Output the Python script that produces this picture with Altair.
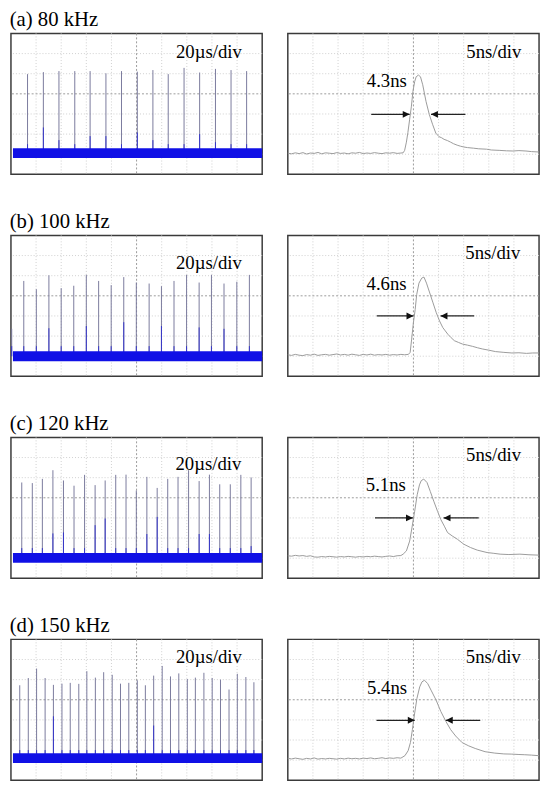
import altair as alt
import pandas as pd

# ---------------- data (all in scope divisions) ----------------
TITLES = ["(a) 80 kHz", "(b) 100 kHz", "(c) 120 kHz", "(d) 150 kHz"]
TRAIN_LABEL = "20µs/div"
PULSE_LABEL = "5ns/div"
WIDTH_LABELS = ["4.3ns", "4.6ns", "5.1ns", "5.4ns"]

GRID_X = [1, 2, 3, 4, 6, 7, 8, 9]
GRID_Y = [1, 2, 3, 5, 6]
CENTER_X = [5]
CENTER_Y = [4]

# pulse trains: spike times, spike tops, bright-blue part tops
A_T = [0.66, 1.29, 1.91, 2.54, 3.15, 3.78, 4.40, 5.03, 5.65, 6.26, 6.89, 7.51, 8.14, 8.76, 9.38]
A_H = [4.98, 5.08, 5.13, 5.13, 5.13, 5.02, 5.13, 5.10, 5.18, 4.98, 5.29, 5.06, 5.24, 5.18, 5.13]
A_B = [1.5, 2.33, 1.7, 1.5, 1.9, 1.9, 1.5, 2.08, 1.7, 1.5, 1.5, 2.0, 1.6, 1.5, 1.5]

B_T = [0.03, 0.51, 1.01, 1.51, 2.00, 2.50, 3.00, 3.49, 3.99, 4.49, 4.99, 5.50, 5.99, 6.49, 6.99, 7.49, 7.98, 8.48, 8.99, 9.49]
B_H = [2.36, 4.74, 4.33, 5.02, 4.38, 4.50, 5.04, 4.74, 4.53, 4.93, 4.66, 4.61, 4.48, 4.74, 5.04, 4.66, 5.04, 4.61, 4.70, 5.04]
B_B = [1.5, 1.5, 1.5, 2.39, 1.5, 1.5, 2.5, 1.5, 1.5, 2.69, 1.5, 1.5, 2.5, 1.5, 1.5, 2.43, 1.5, 2.36, 1.5, 1.5]

C_T = [0.43, 0.85, 1.25, 1.67, 2.09, 2.51, 2.93, 3.35, 3.75, 4.17, 4.58, 4.99, 5.41, 5.82, 6.24, 6.65, 7.07, 7.49, 7.90, 8.31, 8.73, 9.15, 9.56]
C_H = [4.76, 4.73, 4.94, 5.37, 4.86, 4.60, 5.14, 4.63, 4.86, 5.14, 5.15, 4.36, 5.04, 4.49, 4.94, 5.04, 5.37, 4.83, 5.15, 4.67, 4.67, 5.14, 5.01]
C_B = [1.5, 1.5, 1.5, 2.23, 2.28, 1.5, 1.5, 2.64, 2.97, 1.5, 1.5, 1.5, 2.20, 3.05, 1.5, 1.5, 1.5, 2.20, 2.20, 1.5, 1.5, 1.5, 1.6]

D_T = [0.35, 0.69, 1.02, 1.36, 1.69, 2.03, 2.36, 2.70, 3.02, 3.36, 3.69, 4.03, 4.36, 4.69, 5.03, 5.35, 5.68, 6.02, 6.35, 6.68, 7.02, 7.34, 7.68, 8.01, 8.34, 8.68, 9.01, 9.35, 9.67]
D_H = [4.72, 5.08, 5.55, 5.08, 4.74, 4.80, 4.84, 4.79, 5.42, 5.10, 5.37, 5.24, 4.80, 4.84, 4.97, 4.72, 5.20, 5.68, 5.16, 5.31, 5.03, 5.10, 5.34, 5.08, 5.00, 4.51, 5.29, 5.13, 4.87]
D_B = [1.5, 1.5, 1.5, 1.5, 3.18, 1.5, 1.5, 1.5, 1.5, 1.5, 1.5, 1.5, 1.5, 1.5, 1.5, 1.5, 2.72, 1.5, 1.5, 1.5, 1.5, 1.5, 1.5, 1.5, 1.5, 1.5, 1.5, 1.5, 1.5]

# noise band (low, high) and its x-extent
BANDS = [(0.81, 1.30), (0.75, 1.24), (0.77, 1.26), (0.86, 1.34)]
BAND_X = (0.08, 10.0)

# single pulse waveforms: baseline part then pulse part
BASE_X = [0.0, 0.15, 0.3, 0.45, 0.6, 0.75, 0.9, 1.05, 1.2, 1.35, 1.5, 1.65, 1.8, 1.95, 2.1, 2.25,
          2.4, 2.55, 2.7, 2.85, 3.0, 3.15, 3.3, 3.45, 3.6, 3.75, 3.9, 4.05, 4.2, 4.35, 4.5]
A_BASE_Y = [1.05, 1.02, 1.07, 1.03, 1.08, 1.01, 1.06, 1.04, 1.09, 1.02, 1.07, 1.05, 1.03, 1.08, 1.04, 1.06,
            1.02, 1.07, 1.05, 1.09, 1.03, 1.06, 1.04, 1.08, 1.05, 1.03, 1.07, 1.05, 1.08, 1.04, 1.06]
B_BASE_Y = [1.07, 1.04, 1.09, 1.05, 1.03, 1.08, 1.05, 1.10, 1.04, 1.07, 1.09, 1.05, 1.08, 1.11, 1.06, 1.09,
            1.05, 1.10, 1.07, 1.04, 1.09, 1.06, 1.10, 1.05, 1.08, 1.06, 1.09, 1.05, 1.08, 1.06, 1.09]
C_BASE_Y = [1.12, 1.10, 1.14, 1.11, 1.13, 1.09, 1.12, 1.06, 1.05, 1.08, 1.06, 1.09, 1.07, 1.05, 1.08, 1.06,
            1.09, 1.07, 1.05, 1.08, 1.06, 1.09, 1.07, 1.10, 1.08, 1.06, 1.09, 1.11, 1.08, 1.12, 1.13]
D_BASE_Y = [1.09, 1.06, 1.10, 1.07, 1.04, 1.09, 1.06, 1.11, 1.05, 1.08, 1.06, 1.09, 1.07, 1.05, 1.09, 1.06,
            1.10, 1.07, 1.09, 1.06, 1.10, 1.08, 1.11, 1.07, 1.09, 1.12, 1.08, 1.11, 1.09, 1.12, 1.10]

A_PX = [4.59, 4.65, 4.72, 4.78, 4.85, 4.92, 4.98, 5.05, 5.11, 5.20, 5.28, 5.37, 5.50, 5.63, 5.76, 5.89,
        6.02, 6.12, 6.22, 6.35, 6.48, 6.60, 6.74, 6.87, 7.00, 7.15, 7.39, 7.60, 7.91, 8.10, 8.44, 8.70,
        8.96, 9.20, 9.48, 9.70, 10.0]
A_PY = [1.07, 1.19, 1.60, 2.08, 2.74, 3.39, 4.12, 4.61, 4.85, 4.93, 4.85, 4.45, 3.63, 2.98, 2.49, 2.05,
        1.87, 1.82, 1.74, 1.68, 1.60, 1.52, 1.45, 1.40, 1.36, 1.33, 1.30, 1.27, 1.25, 1.21, 1.19, 1.17,
        1.16, 1.18, 1.16, 1.13, 1.11]
B_PX = [4.65, 4.80, 4.87, 4.93, 5.00, 5.07, 5.13, 5.22, 5.33, 5.42, 5.52, 5.65, 5.78, 5.91, 6.04, 6.17,
        6.37, 6.50, 6.63, 6.80, 6.96, 7.15, 7.35, 7.55, 7.74, 8.00, 8.26, 8.60, 8.92, 9.20, 9.50, 9.75, 10.0]
B_PY = [1.07, 1.09, 1.19, 1.85, 2.67, 3.32, 4.06, 4.63, 4.88, 4.93, 4.63, 4.14, 3.65, 3.16, 2.75, 2.42,
        2.09, 1.92, 1.77, 1.68, 1.60, 1.55, 1.49, 1.42, 1.36, 1.30, 1.23, 1.19, 1.16, 1.17, 1.14, 1.16, 1.16]
C_PX = [4.59, 4.72, 4.85, 4.94, 5.05, 5.15, 5.24, 5.31, 5.41, 5.54, 5.67, 5.81, 5.96, 6.09, 6.23, 6.36,
        6.55, 6.75, 7.01, 7.27, 7.54, 7.93, 8.20, 8.45, 8.80, 9.24, 9.60, 10.0]
C_PY = [1.20, 1.36, 1.85, 2.50, 3.33, 4.15, 4.64, 4.85, 4.93, 4.76, 4.32, 3.83, 3.33, 2.92, 2.59, 2.27,
        2.10, 1.94, 1.69, 1.53, 1.40, 1.28, 1.24, 1.20, 1.18, 1.20, 1.17, 1.15]
D_PX = [4.66, 4.79, 4.88, 4.96, 5.05, 5.14, 5.25, 5.34, 5.44, 5.57, 5.70, 5.90, 6.09, 6.29, 6.48, 6.68,
        6.94, 7.20, 7.46, 7.85, 8.24, 8.60, 8.89, 9.20, 9.41, 9.70, 10.0]
D_PY = [1.22, 1.47, 1.87, 2.52, 3.34, 4.07, 4.64, 4.89, 4.97, 4.80, 4.48, 3.99, 3.42, 2.93, 2.52, 2.20,
        1.87, 1.71, 1.58, 1.42, 1.35, 1.31, 1.30, 1.28, 1.27, 1.25, 1.22]

# annotations: train label pos, pulse label pos, width label pos, arrow y, left arrow (from,tip), right arrow (from,tip)
TRAIN_LABEL_POS = [(7.88, 6.07), (7.88, 5.65), (7.86, 5.66), (7.88, 6.10)]
PULSE_LABEL_POS = [(8.20, 6.07), (8.16, 6.10), (8.19, 6.13), (8.18, 6.10)]
WIDTH_LABEL_POS = [(3.94, 4.61), (3.93, 4.58), (3.90, 4.65), (3.95, 4.56)]
ARROW_Y = [2.98, 3.00, 3.00, 2.98]
LEFT_ARROW = [(3.32, 4.85), (3.54, 5.00), (3.47, 4.98), (3.53, 5.05)]
RIGHT_ARROW = [(7.07, 5.70), (7.42, 6.08), (7.60, 6.20), (7.66, 6.29)]

# ---------------- styling ----------------
W, H = 255, 143
FONT = "Liberation Serif"
XS = alt.Scale(domain=[0, 10], nice=False, zero=False)
YS = alt.Scale(domain=[0, 7], nice=False, zero=False)


def grid_layers():
    gx = alt.Chart(pd.DataFrame({"g": GRID_X})).mark_rule(
        color="#cfcfcf", strokeWidth=1, strokeDash=[1, 2]
    ).encode(x=alt.X("g:Q", scale=XS, axis=None))
    gy = alt.Chart(pd.DataFrame({"g": GRID_Y})).mark_rule(
        color="#cfcfcf", strokeWidth=1, strokeDash=[1, 2]
    ).encode(y=alt.Y("g:Q", scale=YS, axis=None))
    cx = alt.Chart(pd.DataFrame({"g": CENTER_X})).mark_rule(
        color="#9a9a9a", strokeWidth=1, strokeDash=[2, 2]
    ).encode(x=alt.X("g:Q", scale=XS, axis=None))
    cy = alt.Chart(pd.DataFrame({"g": CENTER_Y})).mark_rule(
        color="#9a9a9a", strokeWidth=1, strokeDash=[2, 2]
    ).encode(y=alt.Y("g:Q", scale=YS, axis=None))
    return [gx, gy, cx, cy]


def text_layer(x, y, s):
    return alt.Chart(pd.DataFrame({"x": [x], "y": [y], "s": [s]})).mark_text(
        font=FONT, fontSize=19, color="black", align="center", baseline="middle"
    ).encode(x=alt.X("x:Q", scale=XS, axis=None), y=alt.Y("y:Q", scale=YS, axis=None), text="s:N")


def left_panel(t, h, b, band, lpos):
    base = (band[0] + band[1]) / 2
    df = pd.DataFrame({"t": t, "h": h, "b": b, "base": [base] * len(t)})
    spikes = alt.Chart(df).mark_rule(color="#7a7a9c", strokeWidth=1).encode(
        x=alt.X("t:Q", scale=XS, axis=None), y=alt.Y("base:Q", scale=YS, axis=None), y2="h:Q"
    )
    blue = alt.Chart(df).mark_rule(color="#3434c8", strokeWidth=1).encode(
        x=alt.X("t:Q", scale=XS, axis=None), y=alt.Y("base:Q", scale=YS, axis=None), y2="b:Q"
    )
    bdf = pd.DataFrame({"x": [BAND_X[0]], "x2": [BAND_X[1]], "y": [band[0]], "y2": [band[1]]})
    bandc = alt.Chart(bdf).mark_rect(color="#1010e6").encode(
        x=alt.X("x:Q", scale=XS, axis=None), x2="x2:Q",
        y=alt.Y("y:Q", scale=YS, axis=None), y2="y2:Q"
    )
    return alt.layer(*grid_layers(), spikes, blue, bandc, text_layer(lpos[0], lpos[1], TRAIN_LABEL)).properties(
        width=W, height=H
    )


def right_panel(base_y, px, py, ppos, wlabel, wpos, ay, la, ra):
    xs = BASE_X + px
    ys = base_y + py
    df = pd.DataFrame({"x": xs, "y": ys, "i": list(range(len(xs)))})
    line = alt.Chart(df).mark_line(color="#9a9a9a", strokeWidth=1).encode(
        x=alt.X("x:Q", scale=XS, axis=None), y=alt.Y("y:Q", scale=YS, axis=None), order="i:Q"
    )
    adf = pd.DataFrame({"x": [la[0], ra[0]], "x2": [la[1], ra[1]], "y": [ay, ay]})
    shafts = alt.Chart(adf).mark_rule(color="#222222", strokeWidth=1.2).encode(
        x=alt.X("x:Q", scale=XS, axis=None), x2="x2:Q", y=alt.Y("y:Q", scale=YS, axis=None)
    )
    hr = alt.Chart(pd.DataFrame({"x": [la[1]], "y": [ay]})).mark_point(
        shape="M0,0 L-1,-0.5 L-1,0.5 Z", filled=True, size=196, color="#111111", opacity=1
    ).encode(x=alt.X("x:Q", scale=XS, axis=None), y=alt.Y("y:Q", scale=YS, axis=None))
    hl = alt.Chart(pd.DataFrame({"x": [ra[1]], "y": [ay]})).mark_point(
        shape="M0,0 L1,-0.5 L1,0.5 Z", filled=True, size=196, color="#111111", opacity=1
    ).encode(x=alt.X("x:Q", scale=XS, axis=None), y=alt.Y("y:Q", scale=YS, axis=None))
    return alt.layer(
        *grid_layers(), line, shafts, hr, hl,
        text_layer(ppos[0], ppos[1], PULSE_LABEL),
        text_layer(wpos[0], wpos[1], wlabel),
    ).properties(width=W, height=H)


TRAINS = [(A_T, A_H, A_B), (B_T, B_H, B_B), (C_T, C_H, C_B), (D_T, D_H, D_B)]
PULSES = [(A_BASE_Y, A_PX, A_PY), (B_BASE_Y, B_PX, B_PY), (C_BASE_Y, C_PX, C_PY), (D_BASE_Y, D_PX, D_PY)]

rows = []
for k in range(4):
    t, h, b = TRAINS[k]
    by, px, py = PULSES[k]
    lp = left_panel(t, h, b, BANDS[k], TRAIN_LABEL_POS[k])
    rp = right_panel(by, px, py, PULSE_LABEL_POS[k], WIDTH_LABELS[k], WIDTH_LABEL_POS[k],
                     ARROW_Y[k], LEFT_ARROW[k], RIGHT_ARROW[k])
    rows.append(
        alt.hconcat(lp, rp, spacing=21).properties(
            title=alt.TitleParams(
                TITLES[k], anchor="start", font=FONT, fontSize=21, fontWeight="normal",
                color="black", offset=2
            )
        )
    )

chart = alt.vconcat(*rows, spacing=35).properties(
    padding={"left": 1, "top": -5, "right": 0, "bottom": 0}
).configure(background="white").configure_view(stroke="#3a3a3a", strokeWidth=1.5)

chart.save("out.html", embed_options={"renderer": "svg", "actions": False})
